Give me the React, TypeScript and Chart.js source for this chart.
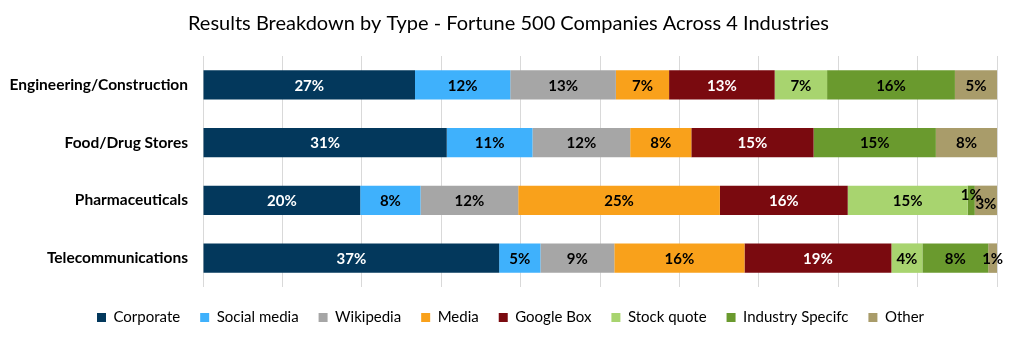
import React, { useEffect, useRef } from "react";
import { Chart, registerables } from "chart.js";

Chart.register(...registerables);

const categories = ["Engineering/Construction", "Food/Drug Stores", "Pharmaceuticals", "Telecommunications"];
const seriesNames = ["Corporate", "Social media", "Wikipedia", "Media", "Google Box", "Stock quote", "Industry Specifc", "Other"];
const corporate = [26.7, 30.7, 19.8, 37.3];
const socialMedia = [12.0, 10.8, 7.6, 5.2];
const wikipedia = [13.3, 12.3, 12.3, 9.3];
const media = [6.7, 7.7, 25.4, 16.4];
const googleBox = [13.3, 15.4, 16.1, 18.5];
const stockQuote = [6.6, 0, 15.1, 3.9];
const industrySpecific = [16.1, 15.4, 0.9, 8.3];
const other = [5.3, 7.7, 2.8, 1.1];
const xTickStep = 10;

const colors = ["#03385c", "#3fb1fc", "#a6a6a6", "#f9a11b", "#7a0a0f", "#a8d46f", "#6a9a2e", "#a99c6a"];
const labelColors = ["#ffffff", "#000000", "#000000", "#000000", "#ffffff", "#000000", "#000000", "#000000"];
// small vertical nudges for crowded labels (dataset index -> category index -> dy)
const labelNudge: Record<string, number> = { "6-2": -6, "7-2": 3 };

const FONT = "Lato, 'Open Sans', sans-serif";

const labelPlugin = {
  id: "segLabels",
  afterDatasetsDraw(chart: any) {
    const ctx = chart.ctx;
    ctx.save();
    ctx.font = `bold 15px ${FONT}`;
    ctx.textAlign = "center";
    ctx.textBaseline = "middle";
    chart.data.datasets.forEach((ds: any, di: number) => {
      const meta = chart.getDatasetMeta(di);
      meta.data.forEach((bar: any, i: number) => {
        const v = ds.data[i];
        if (!v || v <= 0) return;
        const cx = (bar.x + bar.base) / 2;
        const dy = labelNudge[`${di}-${i}`] || 0;
        ctx.fillStyle = labelColors[di];
        ctx.fillText(`${Math.round(v)}%`, cx, bar.y + dy + 1);
      });
    });
    ctx.restore();
  },
};

// shift title and legend blocks slightly right so they are centred like the original
const shiftPlugin = {
  id: "shiftBlocks",
  afterLayout(chart: any) {
    if (chart.legend) { chart.legend.left += 12; chart.legend.right += 12; }
    if (chart.titleBlock) { chart.titleBlock.left += 10; chart.titleBlock.right += 10; }
  },
};

export default function App() {
  const ref = useRef<HTMLCanvasElement | null>(null);
  useEffect(() => {
    if (!ref.current) return;
    const seriesData = [corporate, socialMedia, wikipedia, media, googleBox, stockQuote, industrySpecific, other];
    const chart = new Chart(ref.current, {
      type: "bar",
      data: {
        labels: categories,
        datasets: seriesNames.map((name, i) => ({
          label: name,
          data: seriesData[i],
          backgroundColor: colors[i],
          borderWidth: 0,
          barPercentage: 0.51,
          categoryPercentage: 1,
        })),
      },
      options: {
        indexAxis: "y",
        animation: false,
        responsive: false,
        maintainAspectRatio: false,
        layout: { padding: { left: 0, right: 16, top: 0, bottom: 4 } },
        plugins: {
          title: {
            display: true,
            text: "Results Breakdown by Type - Fortune 500 Companies Across 4 Industries",
            color: "#000000",
            font: { family: FONT, size: 20, weight: "normal" },
            padding: { top: 12, bottom: 20 },
          },
          legend: {
            position: "bottom",
            labels: {
              color: "#000000",
              font: { family: FONT, size: 15 },
              boxWidth: 9,
              boxHeight: 9,
              padding: 20,
            },
          },
          tooltip: { enabled: false },
        },
        scales: {
          x: {
            stacked: true,
            min: 0,
            max: 100,
            ticks: { display: false, stepSize: xTickStep },
            grid: { color: "#d9d9d9", drawTicks: false, lineWidth: 1 },
            border: { display: false },
            afterFit: (s: any) => { s.height = 3; },
          },
          y: {
            stacked: true,
            grid: { display: false },
            border: { display: false },
            ticks: { color: "#000000", font: { family: FONT, size: 15.5, weight: "bold" }, padding: 7 },
            afterFit: (s: any) => { s.width = 203; },
          },
        },
      },
      plugins: [labelPlugin, shiftPlugin],
    });
    return () => chart.destroy();
  }, []);
  return (
    <div style={{ position: "fixed", left: 0, top: 0, width: 1013, height: 339, background: "#fff" }}>
      <canvas ref={ref} width={1013} height={339} />
    </div>
  );
}
